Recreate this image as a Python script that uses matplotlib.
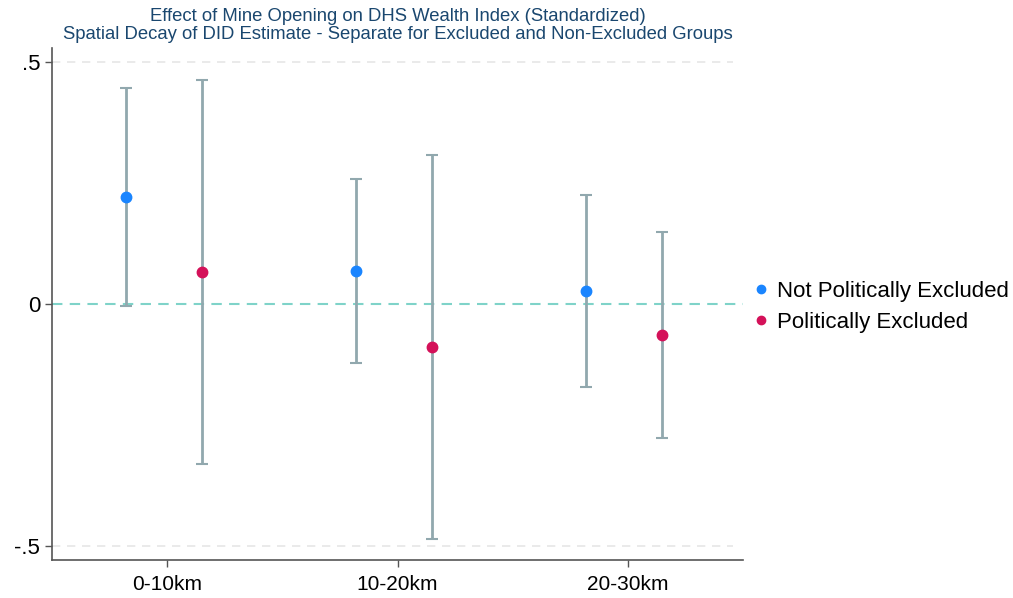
import numpy as np
from matplotlib import pyplot as plt

# estimates
groups = ['0-10km', '10-20km', '20-30km']
notexcl_coef = [0.221, 0.068, 0.027]
notexcl_lo = [-0.004, -0.122, -0.171]
notexcl_hi = [0.445, 0.258, 0.225]
excl_coef = [0.066, -0.089, -0.064]
excl_lo = [-0.330, -0.485, -0.276]
excl_hi = [0.462, 0.307, 0.148]

fnt = ['Liberation Sans', 'DejaVu Sans']
ci_col = '#91a8ae'

fig = plt.figure(figsize=(10.13, 5.98), dpi=100)
ax = fig.add_axes([0.0513, 0.0635, 0.6822, 0.8562])

pos = np.arange(1, len(groups) + 1)
off_a, off_b = -0.18, 0.15

for off, c, lo, hi, col, lab in [
        (off_a, notexcl_coef, notexcl_lo, notexcl_hi, '#1a85ff', 'Not Politically Excluded'),
        (off_b, excl_coef, excl_lo, excl_hi, '#d41159', 'Politically Excluded')]:
    c = np.array(c)
    err = np.vstack([c - np.array(lo), np.array(hi) - c])
    ax.errorbar(pos + off, c, yerr=err, ls='none', ecolor=ci_col, elinewidth=2,
                capsize=4, capthick=1.5, zorder=2)
    ax.plot(pos + off, c, ls='none', marker='o', ms=7.5, color=col, label=lab, zorder=3)

ax.axhline(0, color='#7fd3c9', ls=(0, (5, 3.5)), lw=1.5, zorder=1)
for g in [-0.5, 0.5]:
    ax.axhline(g, color='#e6e6e6', ls=(0, (5, 4)), lw=1.2, zorder=0, xmax=0.985)

ax.set_xlim(0.5, 3.5)
ax.set_ylim(-0.528, 0.528)
ax.set_xticks(pos)
ax.set_xticklabels(groups, family=fnt, fontsize=15)
ax.set_yticks([-0.5, 0, 0.5])
ax.set_yticklabels(['-.5', '0', '.5'], family=fnt, fontsize=16)
ax.tick_params(direction='out', length=5, width=1, color='#555555')
ax.tick_params(axis='x', pad=6)
for s in ['top', 'right']:
    ax.spines[s].set_visible(False)
for s in ['left', 'bottom']:
    ax.spines[s].set_color('#555555')
    ax.spines[s].set_linewidth(1.2)

fig.text(0.3925, 0.972, 'Effect of Mine Opening on DHS Wealth Index (Standardized)',
         ha='center', va='center', color='#1a476f', family=fnt, fontsize=13.3)
fig.text(0.3925, 0.942, 'Spatial Decay of DID Estimate - Separate for Excluded and Non-Excluded Groups',
         ha='center', va='center', color='#1a476f', family=fnt, fontsize=13.3)

ax.legend(loc='center left', bbox_to_anchor=(0.978, 0.495), frameon=False,
          handletextpad=0.1, handlelength=1.2, labelspacing=0.45,
          prop={'family': fnt, 'size': 16}, markerscale=0.8)

fig.savefig('out.png', dpi=100)
